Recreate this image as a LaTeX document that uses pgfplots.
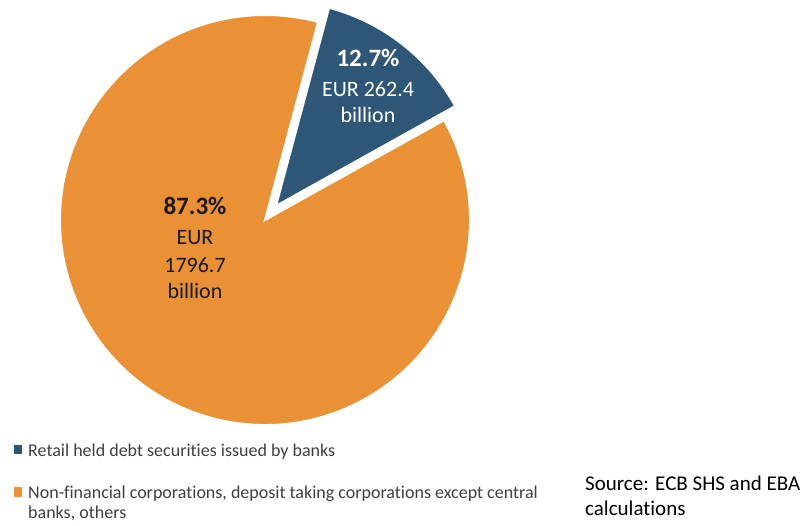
\documentclass[border=0pt]{standalone}
\usepackage{pgfplots}
\pgfplotsset{compat=1.18}
\usepackage{fontspec}
\setmainfont{Carlito}[Ligatures=NoCommon]

\definecolor{sliceblue}{RGB}{46,86,118}
\definecolor{sliceorange}{RGB}{233,145,52}
\definecolor{legtext}{RGB}{64,64,64}

% values in EUR billion
\def\valRetail{262.4}
\def\valOther{1796.7}

\begin{document}
\begin{tikzpicture}
\pgfmathsetmacro{\total}{\valRetail+\valOther}
\pgfmathsetmacro{\angRetail}{\valRetail/\total*360}
\pgfmathsetmacro{\startA}{75}
\pgfmathsetmacro{\endA}{\startA-\angRetail}
\pgfmathsetmacro{\midA}{(\startA+\endA)/2}
% centre of the pie and exploded centre of the blue slice
\pgfmathsetmacro{\cx}{265}
\pgfmathsetmacro{\cy}{305}
\pgfmathsetmacro{\bx}{\cx+18*cos(\midA)}
\pgfmathsetmacro{\by}{\cy+18*sin(\midA)}
\pgfmathsetmacro{\R}{205}
\begin{axis}[
    scale only axis,
    width=810bp, height=525bp,
    xmin=0, xmax=810, ymin=0, ymax=525,
    hide axis,
    clip=false,
]
% fix the picture's extent to the axis area
\path (axis cs:0,0) rectangle (axis cs:810,525);
% orange slice
\filldraw[overlay, fill=sliceorange, draw=white, line width=2bp, line join=miter]
    (axis cs:\cx,\cy) -- (axis cs:{\cx+\R*cos(\endA)},{\cy+\R*sin(\endA)})
    arc[start angle=\endA, end angle=\startA-360, radius=\R bp] -- cycle;
% blue slice (exploded)
\filldraw[overlay, fill=sliceblue, draw=white, line width=2bp, line join=miter]
    (axis cs:\bx,\by) -- (axis cs:{\bx+\R*cos(\startA)},{\by+\R*sin(\startA)})
    arc[start angle=\startA, end angle=\endA, radius=\R bp] -- cycle;

% data labels
\node[anchor=base, white, font=\fontsize{25bp}{28bp}\selectfont\bfseries] at (axis cs:368,458) {12.7\%};
\node[anchor=base, white, font=\fontsize{22bp}{26bp}\selectfont] at (axis cs:368,428) {EUR 262.4};
\node[anchor=base, white, font=\fontsize{22bp}{26bp}\selectfont] at (axis cs:368,402) {billion};

\node[anchor=base, black!90, font=\fontsize{25bp}{28bp}\selectfont\bfseries] at (axis cs:195,310) {87.3\%};
\node[anchor=base, black!90, font=\fontsize{22bp}{26bp}\selectfont] at (axis cs:195,280) {EUR};
\node[anchor=base, black!90, font=\fontsize{22bp}{26bp}\selectfont] at (axis cs:195,252) {1796.7};
\node[anchor=base, black!90, font=\fontsize{22bp}{26bp}\selectfont] at (axis cs:195,226) {billion};

% legend
\fill[sliceblue] (axis cs:14,71) rectangle (axis cs:22,80);
\node[anchor=base west, inner sep=0pt, legtext, font=\fontsize{18bp}{20bp}\selectfont] at (axis cs:28,69) {Retail held debt securities issued by banks};
\fill[sliceorange] (axis cs:14,28) rectangle (axis cs:22,38);
\node[anchor=base west, inner sep=0pt, legtext, font=\fontsize{18bp}{20bp}\selectfont] at (axis cs:28,27) {Non-financial corporations, deposit taking corporations except central};
\node[anchor=base west, inner sep=0pt, legtext, font=\fontsize{18bp}{20bp}\selectfont] at (axis cs:28,7) {banks, others};

% source
\node[anchor=base west, inner sep=0pt, font=\fontsize{21bp}{25bp}\selectfont] at (axis cs:585,35) {Source: ECB SHS and EBA};
\node[anchor=base west, inner sep=0pt, font=\fontsize{21bp}{25bp}\selectfont] at (axis cs:585,10) {calculations};
\end{axis}
\end{tikzpicture}
\end{document}
